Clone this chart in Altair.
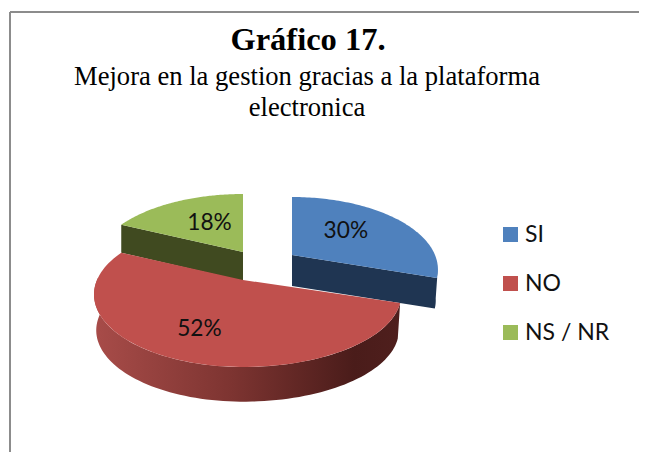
import math
import altair as alt

# ---- data
categories = ["SI", "NO", "NS / NR"]
shares = [30, 52, 18]
colors = ["#4F81BD", "#C0504D", "#9BBB59"]
wall_colors = ["#1F3552", "#7A3230", "#404A20"]
title_text = "Gráfico 17."
subtitle_lines = ["Mejora en la gestion gracias a la plataforma", "electronica"]

# ---- look of the 3-D pie: all in picture pixels
W, H = 631, 444
apex = {"SI": (292, 255), "NO": (243, 280), "NS / NR": (243, 252)}
depth = {"SI": 31, "NO": 36, "NS / NR": 28}
label_frac = {"SI": (0.52, 0.65), "NO": (0.66, 0.62), "NS / NR": (0.5, 0.58)}
WIDE_R, WIDE_L, TALL, PERSP = 155, 146, 69.6, 0.2


def project(cat, deg, lift=0.0, sc=1.0):
    t = math.radians(deg)
    u, v = math.sin(t), math.cos(t)
    w = 1 + PERSP * v
    a = WIDE_L if u < 0 else (143 if cat == "SI" else WIDE_R)
    cx, cy = apex[cat]
    return [cx + sc * a * u / w, cy - sc * TALL * v / w + lift]


def feature(cat, ring):
    return {
        "type": "Feature",
        "properties": {"cat": cat},
        "geometry": {"type": "Polygon", "coordinates": [ring + [ring[0]]]},
    }


spans, cum = {}, 0.0
for c, s in zip(categories, shares):
    spans[c] = (cum * 3.6, (cum + s) * 3.6)
    cum += s


def sweep(a, b, n=90):
    return [a + (b - a) * i / n for i in range(n + 1)]


tops = []
for c in categories:
    a, b = spans[c]
    tops.append(feature(c, [list(apex[c])] + [project(c, d) for d in sweep(a, b)]))

# front rim of the large slice
a, b = spans["NO"]
front = sweep(a, 272)
red_wall = feature(
    "NO",
    [project("NO", d) for d in front]
    + [project("NO", d, depth["NO"], 0.985) for d in reversed(front)],
)
# cut faces of the two pulled-out slices
a, b = spans["SI"]
rim = sweep(b - 8, b, 12)
blue_top_edge = [project("SI", d) for d in rim] + [list(apex["SI"])]
blue_low_edge = [project("SI", d, depth["SI"], 0.985) for d in rim] + [
    [apex["SI"][0], apex["SI"][1] + depth["SI"]]
]
blue_wall = feature("SI", blue_top_edge + blue_low_edge[::-1])
a, b = spans["NS / NR"]
tip = project("NS / NR", a)
tip_low = project("NS / NR", a, depth["NS / NR"])
green_wall = feature(
    "NS / NR",
    [list(apex["NS / NR"]), tip, tip_low,
     [apex["NS / NR"][0], apex["NS / NR"][1] + depth["NS / NR"] + 1]],
)

label_rows = []
for c, s in zip(categories, shares):
    a, b = spans[c]
    p = project(c, (a + b) / 2)
    fx, fy = label_frac[c]
    label_rows.append(
        {
            "x": apex[c][0] + fx * (p[0] - apex[c][0]),
            "y": apex[c][1] + fy * (p[1] - apex[c][1]),
            "t": f"{s}%",
        }
    )

proj = dict(type="identity", scale=1, translate=[-8, -8])
xs = alt.Scale(domain=[8, 8 + W])
ys = alt.Scale(domain=[8 + H, 8])


def shape(feat, fill):
    return (
        alt.Chart(alt.Data(values=[feat]))
        .mark_geoshape(fill=fill, strokeWidth=0)
        .project(**proj)
    )


red_gradient = alt.Gradient(
    gradient="linear",
    x1=0, x2=1, y1=0, y2=0,
    stops=[
        alt.GradientStop(color="#A84C49", offset=0),
        alt.GradientStop(color="#7D3431", offset=0.45),
        alt.GradientStop(color="#4A1C1A", offset=0.85),
        alt.GradientStop(color="#4F1F1D", offset=1),
    ],
)

color = alt.Color(
    "properties.cat:N",
    scale=alt.Scale(domain=categories, range=colors),
    sort=categories,
    legend=alt.Legend(
        title=None,
        orient="none",
        legendX=491,
        legendY=215,
        symbolType="square",
        symbolSize=225,
        symbolStrokeWidth=0,
        labelFont="Lato",
        labelFontSize=23,
        labelColor="#111111",
        labelOffset=3,
        rowPadding=25,
    ),
)
top_faces = (
    alt.Chart(alt.Data(values=tops))
    .mark_geoshape(strokeWidth=0)
    .encode(color=color)
    .project(**proj)
)

labels = (
    alt.Chart(alt.Data(values=label_rows))
    .mark_text(font="Lato", fontSize=22.7, color="#111111")
    .encode(
        x=alt.X("x:Q", scale=xs, axis=None),
        y=alt.Y("y:Q", scale=ys, axis=None),
        text="t:N",
    )
)

heading_rows = [
    {"x": 308, "y": 40, "t": title_text},
    {"x": 307, "y": 77, "t": subtitle_lines[0]},
    {"x": 307, "y": 108, "t": subtitle_lines[1]},
]
headings = (
    alt.Chart(alt.Data(values=heading_rows[:1]))
    .mark_text(font="Liberation Serif", fontSize=32.5, fontWeight="bold", color="black")
    .encode(x=alt.X("x:Q", scale=xs, axis=None), y=alt.Y("y:Q", scale=ys, axis=None), text="t:N")
)
subheads = (
    alt.Chart(alt.Data(values=heading_rows[1:]))
    .mark_text(font="Liberation Serif", fontSize=26.6, color="black")
    .encode(x=alt.X("x:Q", scale=xs, axis=None), y=alt.Y("y:Q", scale=ys, axis=None), text="t:N")
)

frame_left = (
    alt.Chart(alt.Data(values=[{"a": 1}]))
    .mark_rule(color="#8C8C8C", strokeWidth=2)
    .encode(x=alt.value(2), y=alt.value(4), y2=alt.value(H))
)
frame_top = (
    alt.Chart(alt.Data(values=[{"a": 1}]))
    .mark_rule(color="#8C8C8C", strokeWidth=2)
    .encode(y=alt.value(4), x=alt.value(2), x2=alt.value(W))
)

chart = (
    alt.layer(
        frame_left,
        frame_top,
        shape(green_wall, wall_colors[2]),
        shape(blue_wall, wall_colors[0]),
        shape(red_wall, red_gradient),
        top_faces,
        labels,
        headings,
        subheads,
    )
    .properties(
        width=W,
        height=H,
        padding=0,
        background="white",
        autosize=alt.AutoSizeParams(type="none", contains="padding"),
    )
    .configure_view(stroke=None)
)

chart.save("out.html", embed_options={"renderer": "svg", "actions": False})
